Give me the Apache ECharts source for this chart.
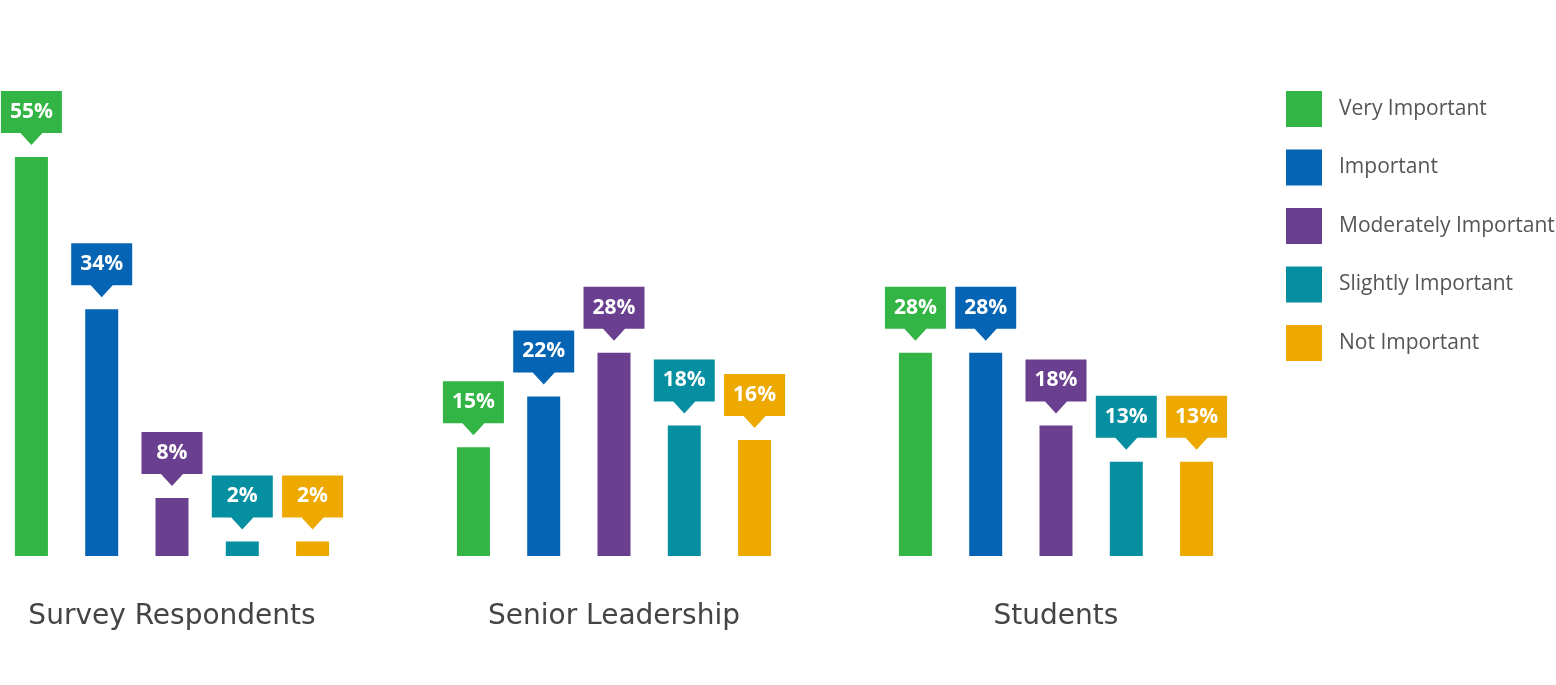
<!DOCTYPE html>
<html>
<head>
<meta charset="utf-8">
<script src="https://cdn.jsdelivr.net/npm/echarts@6/dist/echarts.min.js"></script>
<style>
  html, body { margin: 0; padding: 0; background: #fff; }
  #main { width: 1556px; height: 685px; }
</style>
</head>
<body>
<div id="main"></div>
<script>
// 数据
var categories = ['Survey Respondents', 'Senior Leadership', 'Students'];
var seriesNames = ['Very Important', 'Important', 'Moderately Important', 'Slightly Important', 'Not Important'];
var veryImportant = [55, 15, 28];
var important = [34, 22, 28];
var moderatelyImportant = [8, 28, 18];
var slightlyImportant = [2, 18, 13];
var notImportant = [2, 16, 13];
var colors = ['#33b545', '#0565b4', '#6b3f8f', '#068fa0', '#eda900'];

var values = [veryImportant, important, moderatelyImportant, slightlyImportant, notImportant];

// 标签气泡: 方块 + 下方小三角
var calloutPath = 'path://M0,0 H61 V42 H41.5 L30.5,54 L19.5,42 H0 Z';

var series = seriesNames.map(function (name, i) {
    return {
        name: name,
        type: 'bar',
        data: values[i],
        barWidth: 33,
        barGap: '113%',
        itemStyle: { color: colors[i] },
        markPoint: {
            symbol: calloutPath,
            symbolSize: [61, 54],
            symbolOffset: [0, -39],
            itemStyle: { color: colors[i] },
            label: {
                show: true,
                position: 'inside',
                offset: [0, -6],
                color: '#fff',
                fontSize: 21,
                fontWeight: 'bold',
                fontFamily: 'Open Sans',
                formatter: function (p) { return p.value + '%'; }
            },
            data: values[i].map(function (v, j) {
                return { coord: [categories[j], v], value: v };
            })
        }
    };
});

var myChart = echarts.init(document.getElementById('main'));
myChart.setOption({
    animation: false,
    backgroundColor: '#fff',
    grid: { left: -49, width: 1326, top: 157, bottom: 129, outerBoundsMode: 'none', containLabel: false },
    legend: {
        orient: 'vertical',
        left: 1286,
        top: 91,
        padding: 0,
        itemWidth: 36,
        itemHeight: 36,
        itemGap: 22.5,
        icon: 'rect',
        selectedMode: false,
        data: seriesNames,
        textStyle: {
            fontSize: 21,
            color: '#555',
            fontFamily: 'Open Sans',
            padding: [0, 0, 0, 12]
        }
    },
    xAxis: {
        type: 'category',
        data: categories,
        axisLine: { show: false },
        axisTick: { show: false },
        axisLabel: {
            margin: 47,
            fontSize: 28,
            color: '#444',
            fontFamily: 'DejaVu Sans'
        }
    },
    yAxis: {
        type: 'value',
        min: 0,
        max: 55,
        show: false,
        splitLine: { show: false }
    },
    series: series
});
</script>
</body>
</html>
